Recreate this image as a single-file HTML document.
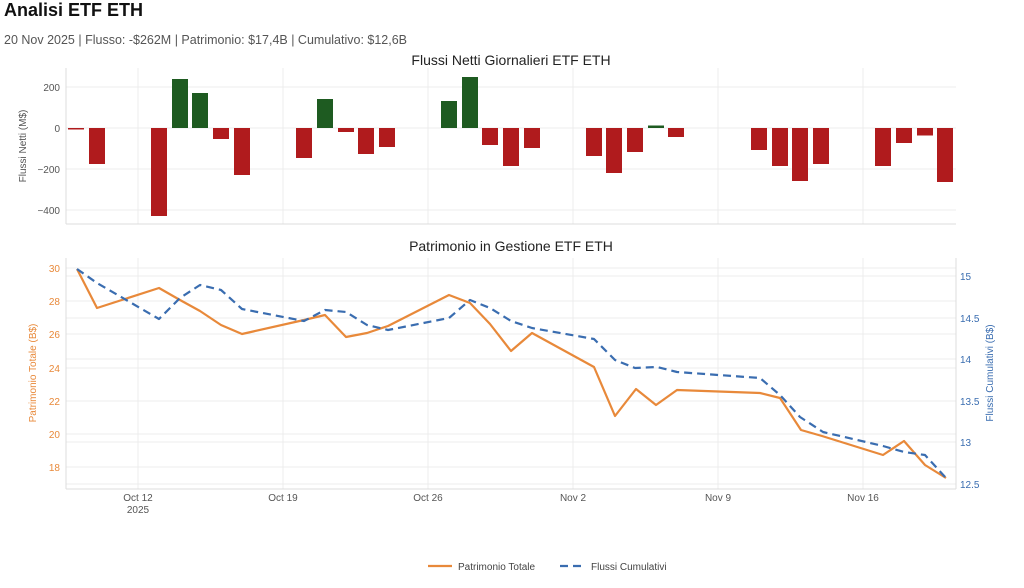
<!DOCTYPE html>
<html><head><meta charset="utf-8"><style>
body{margin:0;background:#fff;font-family:"Liberation Sans",Arial,sans-serif;}
</style></head><body>
<svg width="1024" height="583" xmlns="http://www.w3.org/2000/svg" font-family="Liberation Sans, Arial, sans-serif">
<rect width="1024" height="583" fill="#fff"/>
<text x="4" y="16" font-size="18" font-weight="bold" fill="#111">Analisi ETF ETH</text>
<text x="4" y="44" font-size="12.5" fill="#555">20 Nov 2025 | Flusso: -$262M | Patrimonio: $17,4B | Cumulativo: $12,6B</text>
<text x="511" y="65" font-size="14" fill="#222" text-anchor="middle">Flussi Netti Giornalieri ETF ETH</text>
<text x="511" y="251" font-size="14" fill="#222" text-anchor="middle">Patrimonio in Gestione ETF ETH</text>
<g stroke="#ececec" stroke-width="1">
<line x1="66" y1="87" x2="956" y2="87"/><line x1="66" y1="128" x2="956" y2="128"/>
<line x1="66" y1="169" x2="956" y2="169"/><line x1="66" y1="210" x2="956" y2="210"/>
<line x1="138" y1="68" x2="138" y2="224"/><line x1="283" y1="68" x2="283" y2="224"/>
<line x1="428" y1="68" x2="428" y2="224"/><line x1="573" y1="68" x2="573" y2="224"/>
<line x1="718" y1="68" x2="718" y2="224"/><line x1="863" y1="68" x2="863" y2="224"/>
</g>
<line x1="66" y1="224" x2="956" y2="224" stroke="#ddd"/>
<line x1="66" y1="68" x2="66" y2="224" stroke="#ddd"/>
<g font-size="10" fill="#555" text-anchor="end">
<text x="60" y="91">200</text><text x="60" y="132">0</text><text x="60" y="173">−200</text><text x="60" y="214">−400</text>
</g>
<text transform="translate(26,146) rotate(-90)" font-size="10" fill="#555" text-anchor="middle">Flussi Netti (M$)</text>
<g fill="#b01b1d">
<rect x="68" y="128" width="16" height="1.5"/>
<rect x="89" y="128" width="16" height="36"/>
<rect x="151" y="128" width="16" height="88"/>
<rect x="213" y="128" width="16" height="11"/>
<rect x="234" y="128" width="16" height="47"/>
<rect x="296" y="128" width="16" height="30"/>
<rect x="338" y="128" width="16" height="4"/>
<rect x="358" y="128" width="16" height="26"/>
<rect x="379" y="128" width="16" height="19"/>
<rect x="482" y="128" width="16" height="17"/>
<rect x="503" y="128" width="16" height="38"/>
<rect x="524" y="128" width="16" height="20"/>
<rect x="586" y="128" width="16" height="28"/>
<rect x="606" y="128" width="16" height="45"/>
<rect x="627" y="128" width="16" height="24"/>
<rect x="668" y="128" width="16" height="9"/>
<rect x="751" y="128" width="16" height="22"/>
<rect x="772" y="128" width="16" height="38"/>
<rect x="792" y="128" width="16" height="53"/>
<rect x="813" y="128" width="16" height="36"/>
<rect x="875" y="128" width="16" height="38"/>
<rect x="896" y="128" width="16" height="15"/>
<rect x="917" y="128" width="16" height="7.5"/>
<rect x="937" y="128" width="16" height="54"/>
</g>
<g fill="#1e5b21">
<rect x="172" y="79" width="16" height="49"/>
<rect x="192" y="93" width="16" height="35"/>
<rect x="317" y="99" width="16" height="29"/>
<rect x="441" y="101" width="16" height="27"/>
<rect x="462" y="77" width="16" height="51"/>
<rect x="648" y="125.5" width="16" height="2.5"/>
</g>
<g stroke="#ececec" stroke-width="1">
<line x1="66" y1="268" x2="956" y2="268"/><line x1="66" y1="301" x2="956" y2="301"/>
<line x1="66" y1="334" x2="956" y2="334"/><line x1="66" y1="368" x2="956" y2="368"/>
<line x1="66" y1="401" x2="956" y2="401"/><line x1="66" y1="434" x2="956" y2="434"/>
<line x1="66" y1="467" x2="956" y2="467"/>
<line x1="66" y1="276" x2="956" y2="276"/><line x1="66" y1="318" x2="956" y2="318"/>
<line x1="66" y1="359" x2="956" y2="359"/>
<line x1="66" y1="442" x2="956" y2="442"/><line x1="66" y1="484" x2="956" y2="484"/>
<line x1="138" y1="258" x2="138" y2="489"/><line x1="283" y1="258" x2="283" y2="489"/>
<line x1="428" y1="258" x2="428" y2="489"/><line x1="573" y1="258" x2="573" y2="489"/>
<line x1="718" y1="258" x2="718" y2="489"/><line x1="863" y1="258" x2="863" y2="489"/>
</g>
<line x1="66" y1="489" x2="956" y2="489" stroke="#ddd"/>
<line x1="66" y1="258" x2="66" y2="489" stroke="#ddd"/>
<line x1="956" y1="258" x2="956" y2="489" stroke="#ddd"/>
<g font-size="10" fill="#e8893a" text-anchor="end">
<text x="60" y="272">30</text><text x="60" y="305">28</text><text x="60" y="338">26</text>
<text x="60" y="372">24</text><text x="60" y="405">22</text><text x="60" y="438">20</text><text x="60" y="471">18</text>
</g>
<text transform="translate(36,373) rotate(-90)" font-size="10" fill="#e8893a" text-anchor="middle">Patrimonio Totale (B$)</text>
<g font-size="10" fill="#3a6db0">
<text x="960" y="280">15</text><text x="960" y="322">14.5</text><text x="960" y="363">14</text>
<text x="960" y="405">13.5</text><text x="960" y="446">13</text><text x="960" y="488">12.5</text>
</g>
<text transform="translate(993,373) rotate(-90)" font-size="10" fill="#3a6db0" text-anchor="middle">Flussi Cumulativi (B$)</text>
<g font-size="10" fill="#555" text-anchor="middle">
<text x="138" y="501">Oct 12</text><text x="138" y="513">2025</text>
<text x="283" y="501">Oct 19</text><text x="428" y="501">Oct 26</text>
<text x="573" y="501">Nov 2</text><text x="718" y="501">Nov 9</text><text x="863" y="501">Nov 16</text>
</g>
<polyline fill="none" stroke="#e8893a" stroke-width="2.2" stroke-linejoin="round" points="77,269 97,308 159,288 180,300 200,311 221,325 242,334 304,320 325,315 346,337 367,333 388,326 449,295 470,303 490,324 511,351 532,333 594,367 615,416 636,389 656,405 677,390 760,393 780,398 801,430 822,436 883,455 904,441 925,465 946,478"/>
<polyline fill="none" stroke="#3a6db0" stroke-width="2.2" stroke-dasharray="8,5" stroke-linejoin="round" points="77,269 97,283 159,319 180,298 200,285 221,290 242,309 304,321 325,310 346,312 367,325 388,330 449,318 470,300 490,308 511,321 532,328 594,339 615,360 635,368 657,367 677,372 760,378 780,395 800,417 823,432 883,446 904,452 925,455 946,478"/>
<line x1="428" y1="566" x2="452" y2="566" stroke="#e8893a" stroke-width="2.2"/>
<text x="458" y="570" font-size="10" fill="#444">Patrimonio Totale</text>
<line x1="560" y1="566" x2="585" y2="566" stroke="#3a6db0" stroke-width="2.2" stroke-dasharray="8,5"/>
<text x="591" y="570" font-size="10" fill="#444">Flussi Cumulativi</text>
</svg>
</body></html>
